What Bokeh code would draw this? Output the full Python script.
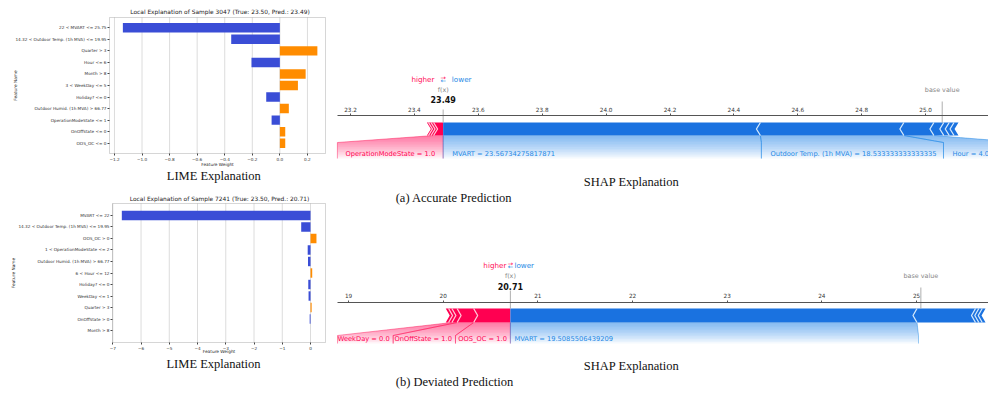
import numpy as np
from bokeh.plotting import figure
from bokeh.layouts import row, column
from bokeh.models import (Range1d, LinearAxis, FixedTicker, ColumnDataSource,
                          CustomJSTickFormatter, BoxAnnotation)
from bokeh.embed import file_html
from bokeh.resources import INLINE
from bokeh.core.properties import value

# ---------------- data ----------------
lime_a_title = "Local Explanation of Sample 3047 (True: 23.50, Pred.: 23.49)"
lime_a_features = ["22 < MVART <= 25.75", "14.32 < Outdoor Temp. (1h MVA) <= 19.95", "Quarter > 3",
                   "Hour <= 6", "Month > 8", "3 < WeekDay <= 5", "Holiday? <= 0",
                   "Outdoor Humid. (1h MVA) > 66.77", "OperationModeState <= 1",
                   "OnOffState <= 0", "OOS_OC <= 0"]
lime_a_weights = [-1.139, -0.353, 0.272, -0.206, 0.187, 0.131, -0.099, 0.065, -0.060, 0.039, 0.039]
lime_a_ticks = [-1.2, -1.0, -0.8, -0.6, -0.4, -0.2, 0.0, 0.2]

lime_b_title = "Local Explanation of Sample 7241 (True: 23.50, Pred.: 20.71)"
lime_b_features = ["MVART <= 22", "14.32 < Outdoor Temp. (1h MVA) <= 19.95", "OOS_OC > 0",
                   "1 < OperationModeState <= 2", "Outdoor Humid. (1h MVA) > 66.77", "6 < Hour <= 12",
                   "Holiday? <= 0", "WeekDay <= 1", "Quarter > 3", "OnOffState > 0", "Month > 8"]
lime_b_weights = [-6.68, -0.33, 0.21, -0.10, -0.09, 0.06, -0.08, -0.07, 0.04, -0.03, 0.0]
lime_b_ticks = [-7, -6, -5, -4, -3, -2, -1, 0]

shap_a_fx = 23.49
shap_a_pos_names = ["OperationModeState = 1.0", "", "", ""]
shap_a_pos_vals = [0.030, 0.008, 0.008, 0.005]
shap_a_neg_names = ["MVART = 23.56734275817871", "Outdoor Temp. (1h MVA) = 18.533333333333335",
                    "Hour = 4.0", "", "", "", ""]
shap_a_neg_vals = [-0.993, -0.449, -0.094, -0.031, -0.017, -0.015, -0.014]
shap_a_ticks = [23.2, 23.4, 23.6, 23.8, 24.0, 24.2, 24.4, 24.6, 24.8, 25.0, 25.2]

shap_b_fx = 20.71
shap_b_pos_names = ["OOS_OC = 1.0", "OnOffState = 1.0", "WeekDay = 0.0", "", ""]
shap_b_pos_vals = [0.388, 0.175, 0.055, 0.035, 0.030]
shap_b_neg_names = ["MVART = 19.5085506439209", "", "", "", ""]
shap_b_neg_vals = [-4.295, -0.618, -0.035, -0.036, -0.035]
shap_b_ticks = [19, 20, 21, 22, 23, 24, 25]

# label slot edges (layout, in axis units)
shap_a_pos_edges = [23.159]
shap_a_neg_edges = [24.486, 25.056, 25.30]
shap_b_pos_edges = [20.130, 19.472, 18.884]
shap_b_neg_edges = [25.021]

# ---------------- styles ----------------
SANS = "DejaVu Sans"
SERIF = "Liberation Serif"
LIME_NEG = "#3a4dd6"
LIME_POS = "#ff8c00"
RED = "#ff0051"
BLUE = "#1a72e0"
RED_T = "#ff0d57"
BLUE_T = "#1e88e5"
LRED = "#ffc3d5"
LBLUE = "#d1e6fa"


def px_text(p, x, y, text, size, font=SANS, color="#222222", style="normal", angle=0.0):
    p.text(x=[x], y=[y], text=[text], x_range_name="px", y_range_name="px",
           text_font=value(font), text_font_size=size, text_color=color,
           text_font_style=style, text_align="center", text_baseline="middle", angle=angle)


def lime_fig(title, feats, weights, ticks, W, H, box, xr, pad, fmt_digits, g):
    fl, ft, fr, fb = box
    n = len(feats)
    x0, x1 = xr
    sx = (fr - fl) / (x1 - x0)
    ytop, ybot = -pad, n - 1 + pad
    sy = (fb - ft) / (ybot - ytop)
    p = figure(width=W, height=H, output_backend="svg", toolbar_location=None,
               x_range=Range1d(x0 - fl / sx, x1 + (W - fr) / sx),
               y_range=Range1d(ybot + (H - fb) / sy, ytop - ft / sy),
               x_axis_location=None, y_axis_location=None,
               min_border=0, min_border_left=0, min_border_right=0,
               min_border_top=0, min_border_bottom=0)
    p.outline_line_color = None
    p.xgrid.visible = False
    p.ygrid.visible = False
    p.extra_x_ranges = {"px": Range1d(0, W)}
    p.extra_y_ranges = {"px": Range1d(H, 0)}

    # grid lines at the ticks, inside the axes box
    p.segment(x0=ticks, y0=[ytop] * len(ticks), x1=ticks, y1=[ybot] * len(ticks),
              line_color="#dcdcdc", line_width=1, level="underlay")

    ys = list(range(n))
    cols = [LIME_POS if w > 0 else LIME_NEG for w in weights]
    src = ColumnDataSource(dict(y=ys, w=weights, c=cols))
    p.hbar(y="y", left=0, right="w", height=0.82, fill_color="c", line_color=None, source=src)

    p.add_layout(BoxAnnotation(left=x0, right=x1, top=ytop, bottom=ybot, fill_alpha=0,
                               fill_color=None, line_color="#555555", line_width=0.8,
                               level="overlay"))

    xa = LinearAxis(fixed_location=ybot, bounds=(x0, x1), ticker=FixedTicker(ticks=ticks))
    xa.formatter = CustomJSTickFormatter(
        code="return tick.toFixed(%d).replace('-', '\\u2212')" % fmt_digits)
    ya = LinearAxis(fixed_location=x0, bounds=(ytop, ybot), ticker=FixedTicker(ticks=ys))
    ya.major_label_overrides = {i: f for i, f in enumerate(feats)}
    for ax in (xa, ya):
        ax.axis_line_color = None
        ax.major_tick_line_color = "#444444"
        ax.major_tick_out = 2
        ax.major_tick_in = 0
        ax.minor_tick_line_color = None
        ax.major_label_text_font = SANS
        ax.major_label_text_font_size = "4.2px"
        ax.major_label_text_color = "#333333"
        ax.major_label_standoff = 1
    p.add_layout(xa, "below")
    p.add_layout(ya, "left")

    px_text(p, g["title"][0], g["title"][1], title, "5.9px")
    px_text(p, g["xl"][0], g["xl"][1], "Feature Weight", "4.3px")
    px_text(p, g["yl"][0], g["yl"][1], "Feature Name", "4.3px", angle=np.pi / 2)
    px_text(p, g["cap"][0], g["cap"][1], "LIME Explanation", "12.5px", font=SERIF, color="#111111")
    return p


def shap_fig(W, H, xr, fx, pos_names, pos_vals, neg_names, neg_vals, pos_edges, neg_edges,
             ticks, g, sub):
    k = W / (xr[1] - xr[0])
    p = figure(width=W, height=H, x_range=Range1d(*xr), y_range=Range1d(H, 0),
               output_backend="svg", toolbar_location=None,
               x_axis_location=None, y_axis_location=None,
               min_border=0, min_border_left=0, min_border_right=0,
               min_border_top=0, min_border_bottom=0)
    p.outline_line_color = None
    p.xgrid.visible = False
    p.ygrid.visible = False
    p.extra_x_ranges = {"px": Range1d(0, W)}

    yt, yb = g["bar"]
    ym = (yt + yb) / 2
    tip = g["tip"] / k
    pos_b = fx - np.concatenate([[0.0], np.cumsum(pos_vals)])
    neg_b = fx - np.concatenate([[0.0], np.cumsum(neg_vals)])
    base = fx - sum(pos_vals) - sum(neg_vals)

    # --- label connectors (gradient by nested translucent polygons) ---
    y0, y1, y2 = g["conn"]

    def edge(s, r, L):
        if L <= y1:
            return [(s, y0), (s + (r - s) * (L - y0) / (y1 - y0), L)]
        return [(s, y0), (r, y1), (r, L)]

    def connectors(segs, regions, color, lcolor):
        N = 14
        a = 1 - (1 - 0.5) ** (1.0 / N)
        xs, ys_, lx, ly = [], [], [], []
        for (s0, s1), (r0, r1) in zip(segs, regions):
            for j in range(1, N + 1):
                L = y0 + (y2 - y0) * j / N
                pts = edge(s1, r1, L) + edge(s0, r0, L)[::-1]
                xs.append([q[0] for q in pts])
                ys_.append([q[1] for q in pts])
            for s, r in ((s0, r0), (s1, r1)):
                e = edge(s, r, y2)
                lx.append([q[0] for q in e])
                ly.append([q[1] for q in e])
        p.patches(xs, ys_, fill_color=color, fill_alpha=a, line_color=None)
        p.multi_line(lx, ly, line_color=lcolor, line_alpha=0.55, line_width=0.8)

    # red labels
    segs, regs, texts = [], [], []
    right = fx
    for i, nm in enumerate(pos_names):
        if not nm:
            continue
        segs.append((pos_b[i + 1], pos_b[i]))
        regs.append((pos_edges[i], right))
        texts.append((right - g["pad_r"] / k, nm))
        right = pos_edges[i]
    connectors(segs, regs, RED, RED_T)
    p.text(x=[t[0] for t in texts], y=[g["text"]] * len(texts), text=[t[1] for t in texts],
           text_align="right", text_baseline="middle", text_color=RED,
           text_font=value(SANS), text_font_size="6.7px")
    # blue labels
    segs, regs, texts = [], [], []
    left = fx
    for i, nm in enumerate(neg_names):
        if not nm:
            continue
        segs.append((neg_b[i], neg_b[i + 1]))
        regs.append((left, neg_edges[i]))
        texts.append((left + g["pad_b"] / k, nm))
        left = neg_edges[i]
    connectors(segs, regs, BLUE_T, BLUE_T)
    p.text(x=[t[0] for t in texts], y=[g["text"]] * len(texts), text=[t[1] for t in texts],
           text_align="left", text_baseline="middle", text_color=BLUE_T,
           text_font=value(SANS), text_font_size="6.7px")

    # --- force bars ---
    xs, ys_ = [], []
    for i in range(len(pos_vals)):
        a, b = pos_b[i + 1], pos_b[i]
        rt = [(b, yt), (b, yb)] if i == 0 else [(b, yt), (b + tip, ym), (b, yb)]
        lf = [(a, yb), (a + tip, ym), (a, yt)]
        pts = rt + lf
        xs.append([q[0] for q in pts])
        ys_.append([q[1] for q in pts])
    p.patches(xs, ys_, fill_color=RED, line_color=None)
    xs, ys_ = [], []
    for i in range(len(neg_vals)):
        a, b = neg_b[i], neg_b[i + 1]
        lf = [(a, yb), (a, yt)] if i == 0 else [(a, yb), (a - tip, ym), (a, yt)]
        rt = [(b, yt), (b - tip, ym), (b, yb)]
        pts = lf + rt
        xs.append([q[0] for q in pts])
        ys_.append([q[1] for q in pts])
    p.patches(xs, ys_, fill_color=BLUE, line_color=None)
    # separators
    sx = [[x, x + tip, x] for x in pos_b[1:-1]]
    p.multi_line(sx, [[yt, ym, yb]] * len(sx), line_color=LRED, line_width=1.3)
    sx = [[x, x - tip, x] for x in neg_b[1:-1]]
    p.multi_line(sx, [[yt, ym, yb]] * len(sx), line_color=LBLUE, line_width=1.3)

    # --- f(x) and base value lines ---
    p.segment(x0=[fx, base], y0=[g["fxline"][0], g["baseline"][0]],
              x1=[fx, base], y1=[g["fxline"][1], g["baseline"][1]],
              line_color="#9a9a9a", line_width=0.8)

    # --- axis ---
    ax = LinearAxis(fixed_location=g["axis"], ticker=FixedTicker(ticks=ticks),
                    bounds=(g["axis_start"], xr[1]))
    ax.formatter = CustomJSTickFormatter(code="return tick.toFixed(%d)" % g["digits"])
    ax.axis_line_color = "#555555"
    ax.axis_line_width = 1
    ax.major_tick_line_color = "#555555"
    ax.major_tick_out = 2
    ax.major_tick_in = 0
    ax.minor_tick_line_color = None
    ax.major_label_standoff = 2
    ax.major_label_text_font = SANS
    ax.major_label_text_font_size = "5.7px"
    ax.major_label_text_color = "#333333"
    p.add_layout(ax, "above")

    # --- texts above ---
    gap = g["gap"] / k
    hl = g["hl"]
    p.text(x=[fx - gap], y=[hl], text=["higher"], text_align="right", text_baseline="middle",
           text_color=RED_T, text_font=value(SANS), text_font_size="7.2px")
    p.text(x=[fx + gap], y=[hl], text=["lower"], text_align="left", text_baseline="middle",
           text_color=BLUE_T, text_font=value(SANS), text_font_size="7.2px")
    p.text(x=[fx], y=[hl - 1.8], text=["\u2192"], text_align="center", text_baseline="middle",
           text_color=RED_T, text_font=value(SANS), text_font_size="6.5px")
    p.text(x=[fx], y=[hl + 1.8], text=["\u2190"], text_align="center", text_baseline="middle",
           text_color=BLUE_T, text_font=value(SANS), text_font_size="6.5px")
    p.text(x=[fx, base], y=[g["fxlab"], g["baselab"]], text=["f(x)", "base value"],
           text_align="center", text_baseline="middle", text_color="#888888",
           text_font=value(SANS), text_font_size="6.4px")
    p.text(x=[fx], y=[g["fxval"]], text=["%.2f" % fx], text_align="center",
           text_baseline="middle", text_color="#111111", text_font=value(SANS),
           text_font_size="8px", text_font_style="bold")

    # --- captions ---
    p.text(x=[g["cap"][0]], y=[g["cap"][1]], text=["SHAP Explanation"], x_range_name="px",
           text_align="center", text_baseline="middle", text_color="#111111",
           text_font=value(SERIF), text_font_size="12.5px")
    p.text(x=[g["sub"][0]], y=[g["sub"][1]], text=[sub], x_range_name="px",
           text_align="center", text_baseline="middle", text_color="#111111",
           text_font=value(SERIF), text_font_size="12.5px")
    return p


LW = 322
SW = 658

lime_a = lime_fig(lime_a_title, lime_a_features, lime_a_weights, lime_a_ticks, LW, 182,
                  (101, 9, 317, 145), (-1.236, 0.331), 0.89, 1,
                  dict(title=(211.5, 3.8), xl=(209, 156), yl=(7, 77), cap=(205.3, 167)))
lime_b = lime_fig(lime_b_title, lime_b_features, lime_b_weights, lime_b_ticks, LW, 201,
                  (104, 13, 317, 152), (-7.01, 0.53), 1.04, 0,
                  dict(title=(211, 8.3), xl=(210.5, 160.7), yl=(4.7, 82.5), cap=(205, 173.3)))

xr_a = (23.2 - 20 / 319.5, 23.2 + 638 / 319.5)
xr_b = (19 - 18 / 94.67, 19 + 640 / 94.67)

shap_a = shap_fig(SW, 197, xr_a, shap_a_fx, shap_a_pos_names, shap_a_pos_vals,
                  shap_a_neg_names, shap_a_neg_vals, shap_a_pos_edges, shap_a_neg_edges,
                  shap_a_ticks,
                  dict(hl=71, fxlab=81, fxval=91, axis=107, bar=(114, 127), conn=(127, 134, 150),
                       text=145, fxline=(101, 114), baseline=(93, 114), baselab=81, tip=4,
                       gap=8.7, pad_r=8, pad_b=9, axis_start=23.159, digits=1,
                       cap=(301, 173), sub=(123.5, 189)),
                  "(a) Accurate Prediction")
shap_b = shap_fig(SW, 186, xr_b, shap_b_fx, shap_b_pos_names, shap_b_pos_vals,
                  shap_b_neg_names, shap_b_neg_vals, shap_b_pos_edges, shap_b_neg_edges,
                  shap_b_ticks,
                  dict(hl=60, fxlab=70, fxval=80.7, axis=96.5, bar=(103, 117), conn=(117, 130, 138),
                       text=133.3, fxline=(85, 103), baseline=(82, 103), baselab=70.7, tip=4,
                       gap=4, pad_r=3.5, pad_b=4, axis_start=18.884, digits=0,
                       cap=(301, 160), sub=(124, 176.5)),
                  "(b) Deviated Prediction")

layout = row(column(lime_a, lime_b), column(shap_a, shap_b), margin=(8, 0, 0, 8))
open("out.html", "w").write(file_html(layout, INLINE))
